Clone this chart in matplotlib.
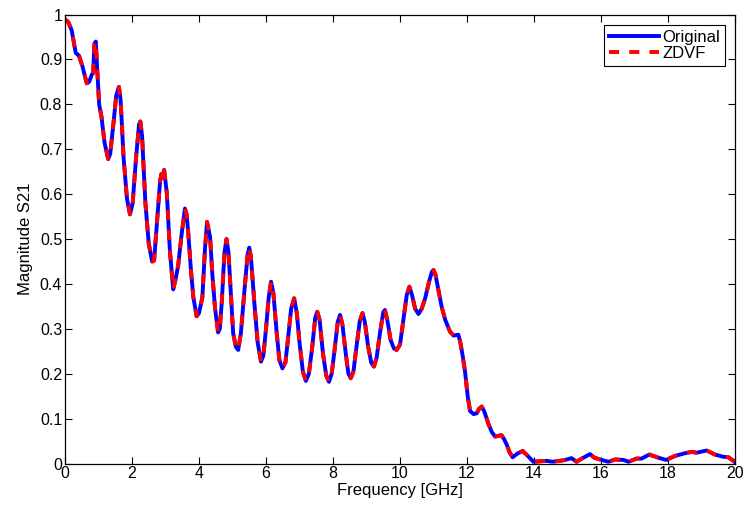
import numpy as np
import matplotlib
matplotlib.use('Agg')
import matplotlib.pyplot as plt

plt.rcParams['font.family'] = ['Liberation Sans', 'DejaVu Sans']

# Measured |S21| of the interconnect (frequency in GHz)
freq = [0.00, 0.10, 0.20, 0.27, 0.32, 0.42, 0.52, 0.65, 0.72, 0.80, 0.84, 0.88, 0.92, 0.96,
        1.02, 1.09, 1.18, 1.29, 1.35, 1.45, 1.53, 1.61, 1.66, 1.75, 1.85, 1.94,
        2.02, 2.12, 2.21, 2.25, 2.30, 2.40, 2.50, 2.60, 2.66, 2.75, 2.84, 2.88, 2.91, 2.96,
        3.04, 3.13, 3.23, 3.30, 3.38, 3.48, 3.58, 3.63, 3.68, 3.76, 3.83, 3.93,
        4.00, 4.10, 4.18, 4.24, 4.33, 4.40, 4.48, 4.57, 4.62, 4.68, 4.76, 4.82, 4.88, 4.95,
        5.02, 5.10, 5.17, 5.25, 5.35, 5.45, 5.50, 5.55, 5.65, 5.75, 5.85, 5.92,
        6.00, 6.08, 6.15, 6.22, 6.32, 6.40, 6.49, 6.58, 6.66, 6.75, 6.84, 6.92,
        7.00, 7.10, 7.19, 7.28, 7.38, 7.47, 7.53, 7.60, 7.70, 7.80, 7.88, 7.96,
        8.05, 8.14, 8.21, 8.28, 8.38, 8.46, 8.53, 8.61, 8.70, 8.80, 8.88, 8.95,
        9.05, 9.14, 9.22, 9.30, 9.40, 9.50, 9.55, 9.62, 9.72, 9.82, 9.90,
        10.00, 10.10, 10.20, 10.28, 10.36, 10.45, 10.55, 10.65, 10.75, 10.85, 10.95,
        11.00, 11.06, 11.15, 11.24, 11.35, 11.49, 11.60, 11.74, 11.80, 11.87, 11.94,
        12.02, 12.09, 12.20, 12.29, 12.36, 12.44, 12.52, 12.64, 12.74, 12.84, 12.95,
        13.03, 13.10, 13.18, 13.27, 13.36, 13.50, 13.66, 13.80, 13.98,
        14.20, 14.38, 14.55, 14.78, 14.93, 15.12, 15.27, 15.45, 15.67, 15.80, 15.97,
        16.22, 16.42, 16.67, 16.82, 17.06, 17.21, 17.44, 17.71, 17.94,
        18.21, 18.51, 18.71, 18.85, 19.15, 19.40, 19.65, 19.80, 19.95, 20.00]

s21_original = [0.990, 0.983, 0.965, 0.935, 0.915, 0.908, 0.885, 0.847, 0.850, 0.866, 0.870, 0.935, 0.940, 0.880,
                0.800, 0.772, 0.715, 0.678, 0.690, 0.760, 0.820, 0.839, 0.810, 0.680, 0.590, 0.555,
                0.580, 0.680, 0.755, 0.762, 0.730, 0.580, 0.490, 0.450, 0.452, 0.540, 0.630, 0.645, 0.637, 0.654,
                0.602, 0.475, 0.388, 0.410, 0.442, 0.510, 0.568, 0.555, 0.513, 0.430, 0.371, 0.328,
                0.335, 0.370, 0.480, 0.538, 0.505, 0.420, 0.345, 0.292, 0.300, 0.360, 0.470, 0.500, 0.470, 0.380,
                0.290, 0.260, 0.253, 0.290, 0.380, 0.465, 0.481, 0.460, 0.360, 0.270, 0.227, 0.240,
                0.300, 0.370, 0.405, 0.380, 0.290, 0.230, 0.212, 0.225, 0.280, 0.345, 0.368, 0.335,
                0.270, 0.205, 0.184, 0.200, 0.260, 0.325, 0.338, 0.320, 0.245, 0.195, 0.182, 0.200,
                0.255, 0.315, 0.331, 0.310, 0.245, 0.200, 0.190, 0.205, 0.260, 0.318, 0.335, 0.315,
                0.260, 0.225, 0.216, 0.235, 0.290, 0.337, 0.342, 0.320, 0.275, 0.256, 0.253,
                0.265, 0.320, 0.375, 0.394, 0.375, 0.345, 0.333, 0.345, 0.368, 0.400, 0.427,
                0.431, 0.420, 0.385, 0.350, 0.320, 0.294, 0.285, 0.287, 0.270, 0.240, 0.205,
                0.150, 0.117, 0.110, 0.112, 0.122, 0.127, 0.115, 0.088, 0.070, 0.060, 0.062,
                0.063, 0.055, 0.043, 0.025, 0.014, 0.022, 0.028, 0.018, 0.004,
                0.005, 0.006, 0.004, 0.006, 0.008, 0.012, 0.004, 0.012, 0.021, 0.013, 0.009,
                0.004, 0.009, 0.008, 0.004, 0.011, 0.011, 0.020, 0.013, 0.008,
                0.017, 0.023, 0.026, 0.024, 0.029, 0.020, 0.015, 0.014, 0.006, 0.003]

# the ZDVF model tracks the data to within line width
s21_zdvf = list(s21_original)

x_ticks = [0, 2, 4, 6, 8, 10, 12, 14, 16, 18, 20]
y_ticks = [0, 0.1, 0.2, 0.3, 0.4, 0.5, 0.6, 0.7, 0.8, 0.9, 1]
y_tick_labels = ['0', '0.1', '0.2', '0.3', '0.4', '0.5', '0.6', '0.7', '0.8', '0.9', '1']

fig = plt.figure(figsize=(7.47, 5.16), dpi=100)
ax = fig.add_axes([0.087, 0.1017, 0.897, 0.870])

ax.plot(freq, s21_original, color='#0000ff', linewidth=2.8, label='Original')
ax.plot(freq, s21_zdvf, color='#ff0000', linewidth=2.8, linestyle=(0, (2.6, 2.6)),
        label='ZDVF')

ax.set_xlim(0, 20)
ax.set_ylim(0, 1)
ax.set_xticks(x_ticks)
ax.set_xticklabels([str(t) for t in x_ticks])
ax.set_yticks(y_ticks)
ax.set_yticklabels(y_tick_labels)
ax.tick_params(direction='in', top=True, right=True, length=5, width=0.8,
               labelsize=11.5, pad=2)
for sp in ax.spines.values():
    sp.set_linewidth(0.9)

ax.set_xlabel('Frequency [GHz]', fontsize=12, labelpad=1)
ax.set_ylabel('Magnitude S21', fontsize=12, labelpad=5)

leg = ax.legend(loc='upper right', fontsize=12, frameon=True, fancybox=False,
                edgecolor='black', framealpha=1, borderpad=0.3, handlelength=3.0,
                handletextpad=0.2, labelspacing=0.1, borderaxespad=0.6)
leg.get_frame().set_linewidth(0.8)

fig.savefig('out.png', dpi=100, facecolor='white')
